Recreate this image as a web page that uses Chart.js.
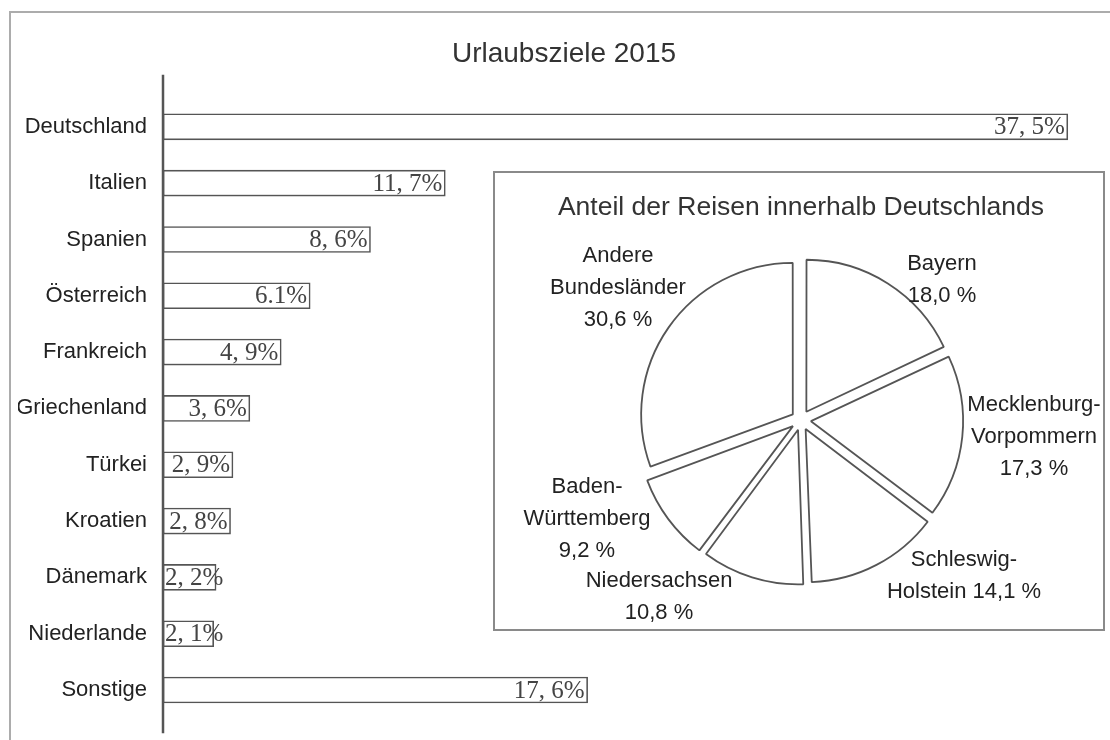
<!DOCTYPE html>
<html><head><meta charset="utf-8">
<script src="https://cdn.jsdelivr.net/npm/chart.js@4"></script>
<style>
html,body{margin:0;padding:0;background:#fff;width:1110px;height:740px;overflow:hidden;}
#frame{position:absolute;left:9px;top:11px;width:1200px;height:800px;border-left:2px solid #acacac;border-top:2px solid #acacac;}
#barWrap{position:absolute;left:0;top:0;width:1110px;height:740px;}
#inset{position:absolute;left:493px;top:171px;width:608px;height:456px;border:2px solid #8a8a8a;background:#fff;}
#pieWrap{position:absolute;left:496px;top:174px;width:607px;height:500px;}
</style></head>
<body>
<div id="frame"></div>
<div id="barWrap"><canvas id="bar" width="1110" height="740"></canvas></div>
<div id="inset"></div>
<div id="pieWrap"><canvas id="pie" width="607" height="500"></canvas></div>
<script>
// ---- bar chart data ----
const categories = ['Deutschland','Italien','Spanien','Österreich','Frankreich','Griechenland','Türkei','Kroatien','Dänemark','Niederlande','Sonstige'];
const shares = [37.5, 11.7, 8.6, 6.1, 4.9, 3.6, 2.9, 2.8, 2.2, 2.1, 17.6];
const shareLabels = ['37, 5%','11, 7%','8, 6%','6.1%','4, 9%','3, 6%','2, 9%','2, 8%','2, 2%','2, 1%','17, 6%'];
const barTitle = 'Urlaubsziele 2015';

// ---- pie chart data ----
const regions = ['Bayern','Mecklenburg-Vorpommern','Schleswig-Holstein','Niedersachsen','Baden-Württemberg','Andere Bundesländer'];
const regionShares = [18.0, 17.3, 14.1, 10.8, 9.2, 30.6];
const regionLabelLines = [['Bayern','18,0 %'],['Mecklenburg-','Vorpommern','17,3 %'],['Schleswig-','Holstein 14,1 %'],['Niedersachsen','10,8 %'],['Baden-','Württemberg','9,2 %'],['Andere','Bundesländer','30,6 %']];
const pieTitle = 'Anteil der Reisen innerhalb Deutschlands';

// ---- layout (not data) ----
const regionLabelOffsets = [[141,-140],[233,17],[163,156],[-142,177],[-214,99],[-183,-132]];

const SANS = '"Liberation Sans", Arial, sans-serif';
const SERIF = '"Liberation Serif", "Times New Roman", serif';

const axisLinePlugin = {
  id: 'axisLine',
  afterDatasetsDraw(chart) {
    const {ctx, chartArea} = chart;
    ctx.save();
    ctx.strokeStyle = '#555';
    ctx.lineWidth = 2.5;
    ctx.beginPath();
    ctx.moveTo(chartArea.left, chartArea.top - 24);
    ctx.lineTo(chartArea.left, chartArea.bottom + 15);
    ctx.stroke();
    ctx.restore();
  }
};

const barLabelPlugin = {
  id: 'barLabels',
  afterDatasetsDraw(chart) {
    const {ctx} = chart;
    const meta = chart.getDatasetMeta(0);
    ctx.save();
    ctx.font = '25px ' + SERIF;
    ctx.fillStyle = '#444';
    ctx.textAlign = 'right';
    ctx.textBaseline = 'middle';
    meta.data.forEach((el, i) => {
      const p = el.getProps(['x','base','y'], true);
      const t = shareLabels[i];
      const w = ctx.measureText(t).width;
      const right = Math.max(p.x - 3, p.base + 2 + w);
      ctx.fillText(t, right, p.y + 1);
    });
    ctx.restore();
  }
};

new Chart(document.getElementById('bar'), {
  type: 'bar',
  data: {
    labels: categories,
    datasets: [{
      data: shares,
      backgroundColor: '#fff',
      borderColor: '#555',
      borderWidth: 1.6,
      borderSkipped: false,
      barThickness: 26
    }]
  },
  options: {
    indexAxis: 'y',
    responsive: false,
    animation: false,
    events: [],
    layout: {padding: {left: 18, right: 0, top: 0, bottom: 21.8}},
    scales: {
      x: {display: false, min: 0, max: 39.25},
      y: {
        afterFit(s) { s.width = 145; s.paddingTop = 0; s.paddingBottom = 0; },
        grid: {display: false, drawTicks: false},
        border: {display: false},
        ticks: {font: {family: SANS, size: 22}, color: '#222', padding: 16}
      }
    },
    plugins: {
      legend: {display: false},
      tooltip: {enabled: false},
      title: {
        display: true, text: barTitle, color: '#333',
        font: {family: SANS, size: 28, weight: 'normal', lineHeight: 1.2},
        padding: {top: 37.2, bottom: 27.85}
      }
    }
  },
  plugins: [axisLinePlugin, barLabelPlugin]
});

const pieLabelPlugin = {
  id: 'pieLabels',
  afterDatasetsDraw(chart) {
    const {ctx} = chart;
    const meta = chart.getDatasetMeta(0);
    ctx.save();
    ctx.font = '22px ' + SANS;
    ctx.fillStyle = '#222';
    ctx.textAlign = 'center';
    ctx.textBaseline = 'middle';
    const lh = 32;
    meta.data.forEach((el, i) => {
      const lines = regionLabelLines[i];
      const [dx, dy] = regionLabelOffsets[i];
      const cx = el.x + dx, cy = el.y + dy;
      lines.forEach((ln, k) => {
        ctx.fillText(ln, cx, cy + (k - (lines.length - 1) / 2) * lh);
      });
    });
    ctx.restore();
  }
};

new Chart(document.getElementById('pie'), {
  type: 'pie',
  data: {
    labels: regions,
    datasets: [{
      data: regionShares,
      backgroundColor: '#fff',
      borderColor: '#555',
      borderWidth: 1.8,
      offset: 40,
      hoverOffset: 0,
      clip: false
    }]
  },
  options: {
    responsive: false,
    animation: false,
    events: [],
    radius: 151,
    layout: {padding: {left: 3, right: 0, top: 0, bottom: 67.6}},
    plugins: {
      legend: {display: false},
      tooltip: {enabled: false},
      title: {
        display: true, text: pieTitle, color: '#333',
        font: {family: SANS, size: 26.5, weight: 'normal', lineHeight: 1.2},
        padding: {top: 18.1, bottom: 10}
      }
    }
  },
  plugins: [pieLabelPlugin]
});
</script>
</body></html>
